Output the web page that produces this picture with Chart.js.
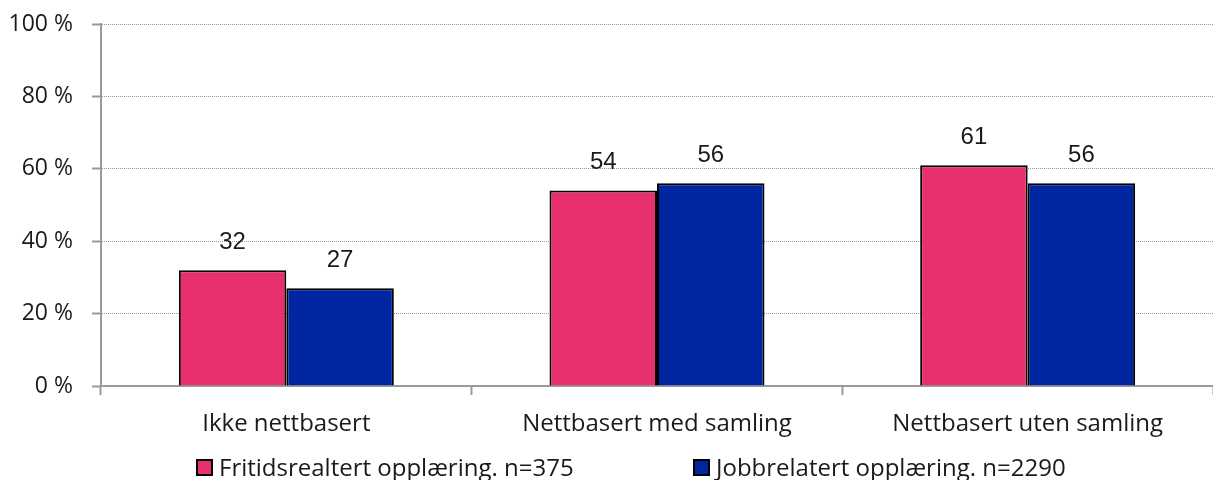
<!DOCTYPE html>
<html>
<head>
<meta charset="utf-8">
<script src="https://cdn.jsdelivr.net/npm/chart.js@4/dist/chart.umd.min.js"></script>
<style>
  html, body { margin: 0; padding: 0; background: #fff; }
  #wrap { position: relative; width: 1213px; height: 480px; }
  #legend { position: absolute; left: 0; top: 452px; width: 1213px; height: 30px;
    font-family: "Open Sans", sans-serif; font-size: 24px; color: #1a1a1a; }
  .item { position: absolute; top: 0; display: flex; align-items: center; white-space: nowrap; line-height: 30px; }
  .box { width: 13px; height: 13px; border: 2px solid #000; margin-right: 6px; }
</style>
</head>
<body>
<div id="wrap">
  <canvas id="c" width="1213" height="480"></canvas>
  <div id="legend"></div>
</div>
<script>
const categories = ["Ikke nettbasert", "Nettbasert med samling", "Nettbasert uten samling"];
const seriesNames = ["Fritidsrealtert opplæring. n=375", "Jobbrelatert opplæring. n=2290"];
const fritidValues = [32, 54, 61];
const jobbValues = [27, 56, 56];
const seriesColors = ["#E83070", "#0025A0"];
const yTicks = [0, 20, 40, 60, 80, 100];

const valueLabels = {
  id: 'valueLabels',
  afterDatasetsDraw(chart) {
    const ctx = chart.ctx;
    ctx.save();
    ctx.font = '24px "Liberation Sans", Arial, sans-serif';
    ctx.fillStyle = '#1a1a1a';
    ctx.textAlign = 'center';
    ctx.textBaseline = 'middle';
    chart.data.datasets.forEach((ds, i) => {
      chart.getDatasetMeta(i).data.forEach((bar, j) => {
        ctx.fillText(String(ds.data[j]), bar.x, bar.y - 28);
      });
    });
    ctx.restore();
  }
};

const chart = new Chart(document.getElementById('c'), {
  type: 'bar',
  data: {
    labels: categories,
    datasets: [
      { label: seriesNames[0], data: fritidValues, backgroundColor: seriesColors[0], borderColor: '#000', borderWidth: 2 },
      { label: seriesNames[1], data: jobbValues, backgroundColor: seriesColors[1], borderColor: '#000', borderWidth: 2 }
    ]
  },
  options: {
    responsive: false,
    animation: false,
    layout: { padding: { top: 24, right: 0, bottom: 0, left: 0 } },
    datasets: { bar: { categoryPercentage: 0.58, barPercentage: 1.0 } },
    plugins: { legend: { display: false }, tooltip: { enabled: false } },
    scales: {
      x: {
        offset: true,
        grid: { offset: true, drawOnChartArea: false, drawTicks: true, tickLength: 9, tickColor: '#9a9a9a', tickWidth: 2 },
        border: { display: true, color: '#9a9a9a', width: 2 },
        ticks: { color: '#1a1a1a', font: { family: '"Open Sans", sans-serif', size: 24 }, padding: 15, maxRotation: 0 },
        afterFit(s) { s.height = 94; s.paddingLeft = 0; s.paddingRight = 0; }
      },
      y: {
        min: 0, max: 100,
        afterBuildTicks(s) { s.ticks = yTicks.map(v => ({ value: v })); },
        grid: { color: '#9a9a9a', lineWidth: 1, drawTicks: true, tickLength: 9, tickColor: '#9a9a9a', tickWidth: 2 },
        border: { display: true, color: '#9a9a9a', width: 2, dash: [1, 1] },
        ticks: { color: '#1a1a1a', font: { family: '"Open Sans", sans-serif', size: 23 }, padding: 19,
          callback: v => v + ' %' },
        afterFit(s) { s.width = 101; s.paddingTop = 0; s.paddingBottom = 0; }
      }
    }
  },
  plugins: [valueLabels]
});

// HTML legend built from datasets
const legend = document.getElementById('legend');
const legendX = [196, 693];
chart.data.datasets.forEach((ds, i) => {
  const item = document.createElement('div');
  item.className = 'item';
  item.style.left = legendX[i] + 'px';
  const box = document.createElement('span');
  box.className = 'box';
  box.style.background = ds.backgroundColor;
  const txt = document.createElement('span');
  txt.textContent = ds.label;
  item.appendChild(box); item.appendChild(txt);
  legend.appendChild(item);
});
</script>
</body>
</html>
